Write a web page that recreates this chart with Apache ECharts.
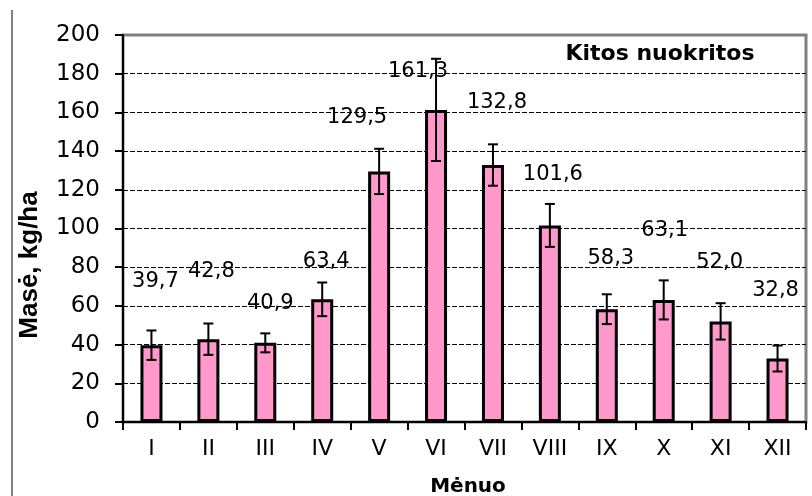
<!DOCTYPE html>
<html>
<head>
<meta charset="utf-8">
<script src="https://cdn.jsdelivr.net/npm/echarts@6/dist/echarts.min.js"></script>
<style>
  html, body { margin: 0; padding: 0; background: #fff; }
  #chart { width: 812px; height: 496px; }
</style>
</head>
<body>
<div id="chart"></div>
<script>
const months = ['I', 'II', 'III', 'IV', 'V', 'VI', 'VII', 'VIII', 'IX', 'X', 'XI', 'XII'];
const mass = [39.7, 42.8, 40.9, 63.4, 129.5, 161.3, 132.8, 101.6, 58.3, 63.1, 52.0, 32.8];
const errors = [7.6, 8.1, 4.9, 8.7, 11.7, 26.4, 10.7, 11.1, 7.7, 10.1, 9.4, 6.7];
const yTicks = [0, 20, 40, 60, 80, 100, 120, 140, 160, 180, 200];

// where Excel left each data label, relative to the bar top (px)
const labelOffsets = [
  [4, -53], [3, -57], [5, -29], [4, -27], [-22, -43], [-18, -28],
  [4, -52], [3, -40], [4, -40], [1, -59], [-1, -48], [-2, -57],
];

const chart = echarts.init(document.getElementById('chart'));

function fmt(v) {
  return v.toFixed(1).replace('.', ',');
}

function renderErrorBar(params, api) {
  const x = api.value(0);
  const mean = api.value(1);
  const err = api.value(2);
  const hi = api.coord([x, mean + err]);
  const lo = api.coord([x, mean - err]);
  const cap = 5;
  const style = { stroke: '#000', lineWidth: 2 };
  return {
    type: 'group',
    children: [
      { type: 'line', shape: { x1: hi[0], y1: hi[1], x2: lo[0], y2: lo[1] }, style },
      { type: 'line', shape: { x1: hi[0] - cap, y1: hi[1], x2: hi[0] + cap, y2: hi[1] }, style },
      { type: 'line', shape: { x1: lo[0] - cap, y1: lo[1], x2: lo[0] + cap, y2: lo[1] }, style },
    ],
  };
}

chart.setOption({
  animation: false,
  textStyle: { fontFamily: 'DejaVu Sans' },
  grid: {
    left: 123,
    right: 6,
    top: 35,
    bottom: 74,
    show: true,
    borderColor: '#808080',
    borderWidth: 3,
  },
  graphic: [
    {
      type: 'line',
      shape: { x1: 12, y1: 10, x2: 12, y2: 496 },
      style: { stroke: '#000', lineWidth: 1 },
    },
    {
      type: 'text',
      x: 660,
      y: 54,
      style: {
        text: 'Kitos nuokritos',
        font: 'bold 22px "DejaVu Sans"',
        fill: '#000',
        align: 'center',
        verticalAlign: 'middle',
      },
    },
    {
      type: 'text',
      x: 30,
      y: 265,
      rotation: Math.PI / 2,
      style: {
        text: 'Masė, kg/ha',
        font: 'bold 26px "Liberation Sans"',
        fill: '#000',
        align: 'center',
        verticalAlign: 'middle',
      },
    },
    {
      type: 'text',
      x: 468,
      y: 487,
      style: {
        text: 'Mėnuo',
        font: 'bold 20px "DejaVu Sans"',
        fill: '#000',
        align: 'center',
        verticalAlign: 'middle',
      },
    },
  ],
  xAxis: {
    type: 'category',
    data: months,
    axisLine: { lineStyle: { color: '#000', width: 2 } },
    axisTick: { show: true, length: 8, lineStyle: { color: '#000', width: 2 } },
    axisLabel: { color: '#000', fontSize: 22, margin: 16 },
  },
  yAxis: {
    type: 'value',
    min: yTicks[0],
    max: yTicks[yTicks.length - 1],
    interval: yTicks[1] - yTicks[0],
    axisLine: { show: true, lineStyle: { color: '#000', width: 2 } },
    axisTick: { show: true, length: 8, lineStyle: { color: '#000', width: 2 } },
    axisLabel: { color: '#000', fontSize: 23, margin: 23 },
    splitLine: {
      show: true,
      showMinLine: false,
      showMaxLine: false,
      lineStyle: { color: '#000', width: 1, type: [5, 2] },
    },
  },
  series: [
    {
      type: 'bar',
      barWidth: 22,
      z: 2,
      itemStyle: { color: '#ff99cc', borderColor: '#000', borderWidth: 3 },
      label: {
        show: true,
        position: 'top',
        distance: 0,
        color: '#000',
        fontSize: 21,
        formatter: (p) => fmt(p.value),
      },
      data: mass.map((v, i) => ({ value: v, label: { offset: labelOffsets[i] } })),
    },
    {
      type: 'custom',
      z: 3,
      renderItem: renderErrorBar,
      encode: { x: 0, y: 1 },
      data: mass.map((v, i) => [i, v, errors[i]]),
    },
  ],
});
</script>
</body>
</html>
